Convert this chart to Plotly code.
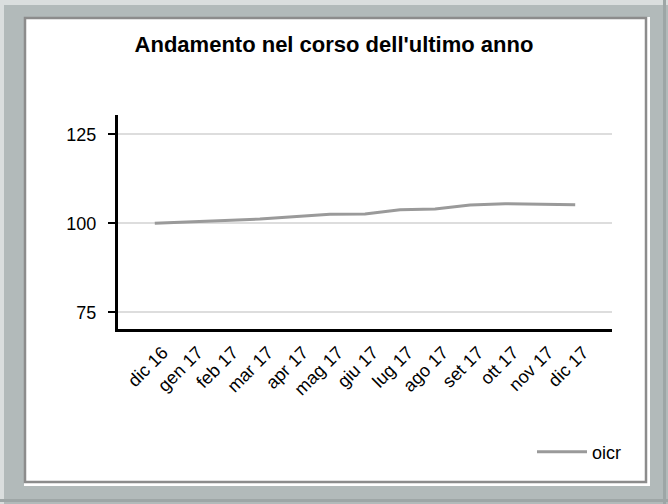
import plotly.graph_objects as go

categories = ["dic 16", "gen 17", "feb 17", "mar 17", "apr 17", "mag 17", "giu 17",
              "lug 17", "ago 17", "set 17", "ott 17", "nov 17", "dic 17"]
oicr = [100.0, 100.3, 100.8, 101.2, 101.9, 102.5, 102.6, 103.8, 104.0, 105.1, 105.5, 105.3, 105.2]
y_ticks = [75, 100, 125]
series_name = "oicr"
title_text = "Andamento nel corso dell'ultimo anno"

W, H = 668, 504
L, R, T, B = 118, 56, 115, 175
PW, PH = W - L - R, H - T - B


def px(x):
    return (x - L) / PW


def py(y):
    return (H - B - y) / PH


def rect(x0, y0, x1, y1, fill, line_color=None, line_width=0):
    return dict(type="rect", xref="paper", yref="paper", layer="below",
                x0=px(x0), x1=px(x1), y0=py(y1), y1=py(y0),
                fillcolor=fill,
                line=dict(color=line_color or fill, width=line_width))


shapes = [
    rect(0, 0, W, 5, "#dadede"),
    rect(0, 0, 4, H, "#dadede"),
    rect(663, 0, 666, H, "#9ea6a6"),
    rect(0, 499, W, 502, "#9ea6a6"),
    rect(24, 17, 650, 486, "#ffffff"),
    rect(25, 18, 646, 482, "#ffffff", "#8c8c8c", 2.5),
]

fig = go.Figure()
fig.add_trace(go.Scatter(
    x=categories, y=oicr, mode="lines", name=series_name,
    line=dict(color="#9a9a9a", width=3),
))

fig.update_layout(
    width=W, height=H,
    margin=dict(l=L, r=R, t=T, b=B),
    paper_bgcolor="#b2baba",
    plot_bgcolor="rgba(0,0,0,0)",
    font=dict(family="Liberation Sans, Arial, sans-serif", color="#000000"),
    title=dict(text="<b>" + title_text + "</b>", x=0.5, xanchor="center",
               xref="container", yref="container",
               y=(H - 44.5) / H, yanchor="middle",
               font=dict(size=22, color="#000000")),
    shapes=shapes,
    showlegend=True,
    legend=dict(x=px(532), xanchor="left", y=py(452), yanchor="middle",
                bgcolor="rgba(0,0,0,0)", font=dict(size=18),
                itemwidth=50),
    xaxis=dict(
        type="category", range=[-1.05, 13.05],
        showline=True, linecolor="#000000", linewidth=3,
        showgrid=False, ticks="", tickangle=-45,
        ticklabelshift=8, ticklabelstandoff=3,
        tickfont=dict(size=18, color="#000000"),
        zeroline=False, fixedrange=True,
    ),
    yaxis=dict(
        range=[70.3, 130.4], tickvals=y_ticks,
        showline=True, linecolor="#000000", linewidth=3,
        showgrid=True, gridcolor="#dddddd", gridwidth=2,
        ticks="outside", ticklen=7, tickwidth=2, tickcolor="#000000",
        ticklabelstandoff=8,
        tickfont=dict(size=18, color="#000000"),
        zeroline=False, fixedrange=True,
    ),
)

fig.write_html("out.html",
               config={"displayModeBar": False, "staticPlot": True},
               post_script="document.body.style.margin='0';document.body.style.padding='0';")
